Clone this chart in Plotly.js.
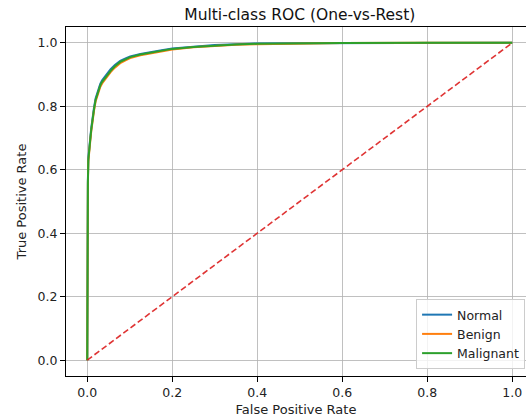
<!DOCTYPE html>
<html>
<head>
<meta charset="utf-8">
<script src="https://cdn.plot.ly/plotly-3.0.1.min.js"></script>
<style>html,body{margin:0;padding:0;overflow:hidden;background:#fff;}</style>
</head>
<body>
<div id="chart" style="width:526px;height:418px;"></div>
<script>
const seriesNames = ["Normal", "Benign", "Malignant"];
const seriesColors = ["#1f77b4", "#ff7f0e", "#2ca02c"];

const fprNormal = [0, 0, 0.0005, 0.0015, 0.0025, 0.004, 0.007, 0.0094, 0.0118, 0.0157, 0.0196, 0.026, 0.0306, 0.035, 0.045, 0.055, 0.065, 0.0776, 0.09, 0.101, 0.125, 0.148, 0.175, 0.2, 0.25, 0.3, 0.35, 0.4, 0.5, 0.6, 0.8, 1.0];
const tprNormal = [0, 0.41, 0.475, 0.565, 0.635, 0.67, 0.699, 0.731, 0.762, 0.794, 0.825, 0.856, 0.871, 0.882, 0.901, 0.917, 0.93, 0.943, 0.951, 0.957, 0.965, 0.971, 0.977, 0.982, 0.988, 0.993, 0.996, 0.998, 0.999, 0.9995, 1.0, 1.0];

const fprBenign = [0, 0, 0.0005, 0.0015, 0.0025, 0.004, 0.007, 0.0094, 0.0118, 0.0157, 0.0196, 0.026, 0.0306, 0.035, 0.045, 0.055, 0.065, 0.0776, 0.09, 0.101, 0.125, 0.148, 0.175, 0.2, 0.25, 0.3, 0.35, 0.4, 0.5, 0.6, 0.8, 1.0];
const tprBenign = [0, 0.39, 0.465, 0.555, 0.625, 0.66, 0.689, 0.721, 0.752, 0.784, 0.815, 0.847, 0.861, 0.872, 0.891, 0.908, 0.922, 0.936, 0.945, 0.952, 0.961, 0.967, 0.974, 0.979, 0.986, 0.991, 0.994, 0.996, 0.998, 0.9993, 1.0, 1.0];

const fprMalignant = [0, 0, 0.0005, 0.0015, 0.0025, 0.004, 0.007, 0.0094, 0.0118, 0.0157, 0.0196, 0.026, 0.0306, 0.035, 0.045, 0.055, 0.065, 0.0776, 0.09, 0.101, 0.125, 0.148, 0.175, 0.2, 0.25, 0.3, 0.35, 0.4, 0.5, 0.6, 0.8, 1.0];
const tprMalignant = [0, 0.40, 0.47, 0.56, 0.63, 0.665, 0.694, 0.726, 0.757, 0.789, 0.82, 0.852, 0.866, 0.877, 0.896, 0.912, 0.926, 0.94, 0.948, 0.955, 0.963, 0.969, 0.976, 0.981, 0.987, 0.992, 0.995, 0.997, 0.999, 0.9995, 1.0, 1.0];

const chanceX = [0, 1];
const chanceY = [0, 1];

const tickVals = [0, 0.2, 0.4, 0.6, 0.8, 1.0];
const tickText = ["0.0", "0.2", "0.4", "0.6", "0.8", "1.0"];

const fprs = [fprNormal, fprBenign, fprMalignant];
const tprs = [tprNormal, tprBenign, tprMalignant];

const traces = seriesNames.map((n, i) => ({
  x: fprs[i], y: tprs[i], type: "scatter", mode: "lines", name: n,
  line: {color: seriesColors[i], width: 2}
}));
traces.push({
  x: chanceX, y: chanceY, type: "scatter", mode: "lines", showlegend: false,
  line: {color: "rgba(220,30,30,0.9)", width: 1.6, dash: "6px,3px"}
});

const tf = {family: "DejaVu Sans, sans-serif", size: 12.5, color: "#222"};
const lf = {family: "DejaVu Sans, sans-serif", size: 13, color: "#222"};

const layout = {
  width: 526, height: 418,
  margin: {l: 66, r: 0, t: 27, b: 42},
  paper_bgcolor: "#fff", plot_bgcolor: "#fff",
  font: tf,
  title: {text: "Multi-class ROC (One-vs-Rest)", font: {family: "DejaVu Sans, sans-serif", size: 15.5, color: "#111"}, x: 0.57, xanchor: "center", y: 0.965, yanchor: "middle"},
  xaxis: {
    range: [-0.05, 1.0324], tickvals: tickVals, ticktext: tickText,
    showgrid: true, gridcolor: "#b0b0b0", gridwidth: 0.8, zeroline: false,
    showline: true, linecolor: "#000", linewidth: 1, mirror: true,
    ticks: "outside", ticklen: 5, tickcolor: "#000", tickwidth: 1,
    tickfont: tf,
    title: {text: "False Positive Rate", font: lf, standoff: 5}
  },
  yaxis: {
    range: [-0.05, 1.05], tickvals: tickVals, ticktext: tickText,
    showgrid: true, gridcolor: "#b0b0b0", gridwidth: 0.8, zeroline: false,
    showline: true, linecolor: "#000", linewidth: 1,
    ticks: "outside", ticklen: 5, tickcolor: "#000", tickwidth: 1,
    tickfont: tf,
    title: {text: "True Positive Rate", font: lf, standoff: 8}
  },
  legend: {
    x: 0.998, y: 0.02, xanchor: "right", yanchor: "bottom",
    bgcolor: "rgba(255,255,255,0.8)", bordercolor: "#cccccc", borderwidth: 1,
    font: tf, itemwidth: 30, tracegroupgap: 0
  },
  showlegend: true
};

Plotly.newPlot("chart", traces, layout, {displayModeBar: false, staticPlot: true});
</script>
</body>
</html>
